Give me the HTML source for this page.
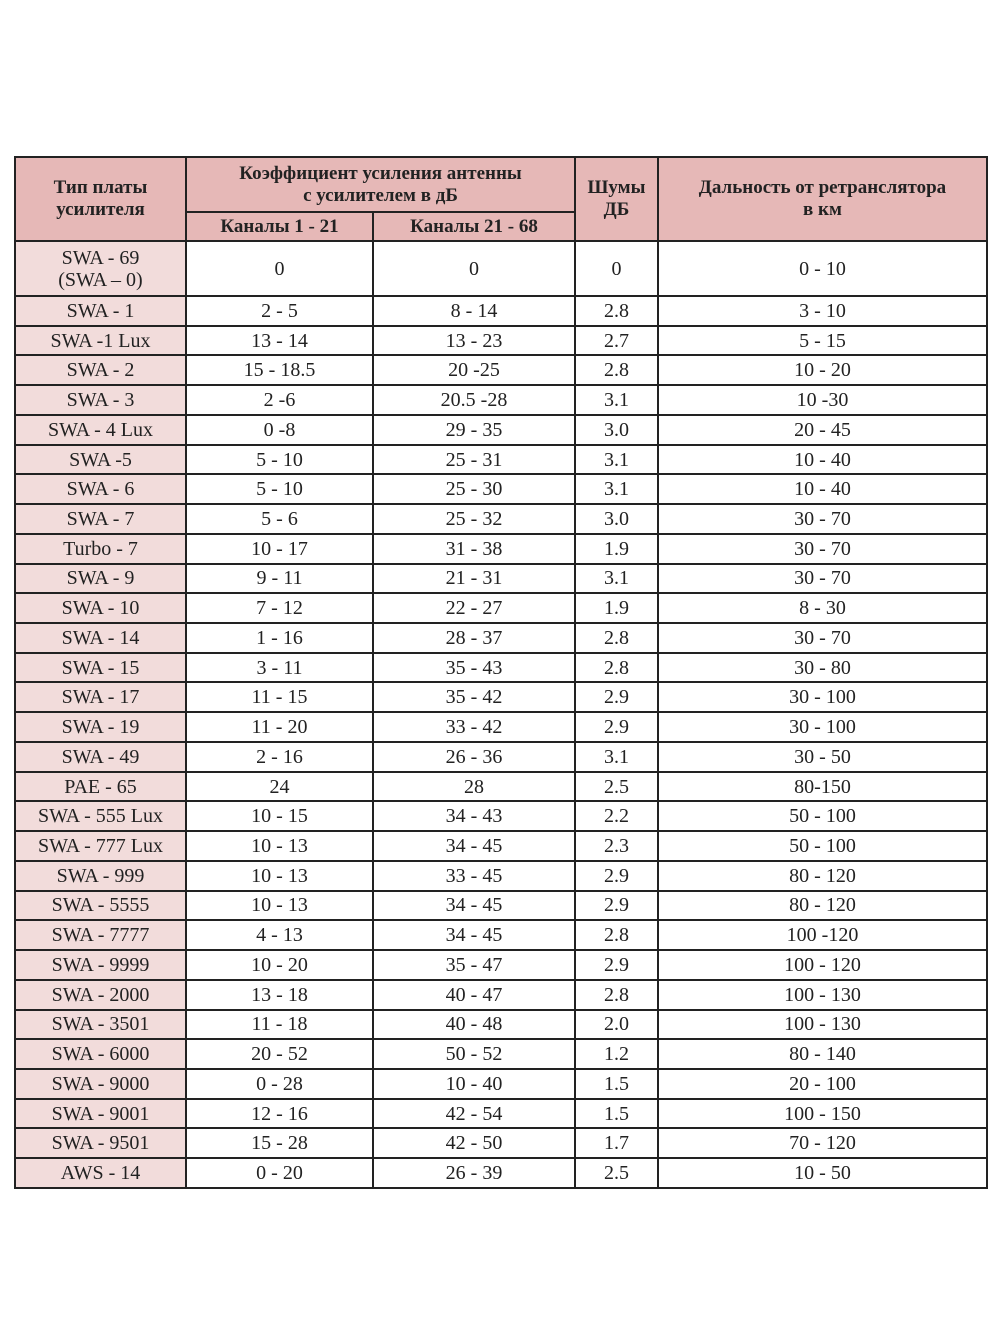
<!DOCTYPE html>
<html><head><meta charset="utf-8"><style>
body{margin:0;width:1000px;height:1340px;background:#fff;position:relative;font-family:"Liberation Serif","DejaVu Serif",serif;color:#222}
.c{position:absolute;display:flex;align-items:center;justify-content:center;text-align:center;box-sizing:border-box;font-size:20px;line-height:22px}
.h{background:#e6b8b7;font-weight:bold;font-size:19px;line-height:22px}
.f{background:#f2dcdb}
.l{position:absolute;background:#222}
</style></head><body>
<div id="t"></div>
<script>
var rows=[["SWA - 69<br>(SWA – 0)","0","0","0","0 - 10"],["SWA - 1","2 - 5","8 - 14","2.8","3 - 10"],["SWA -1 Lux","13 - 14","13 - 23","2.7","5 - 15"],["SWA - 2","15 - 18.5","20 -25","2.8","10 - 20"],["SWA - 3","2 -6","20.5 -28","3.1","10 -30"],["SWA - 4 Lux","0 -8","29 - 35","3.0","20 - 45"],["SWA -5","5 - 10","25 - 31","3.1","10 - 40"],["SWA - 6","5 - 10","25 - 30","3.1","10 - 40"],["SWA - 7","5 - 6","25 - 32","3.0","30 - 70"],["Turbo - 7","10 - 17","31 - 38","1.9","30 - 70"],["SWA - 9","9 - 11","21 - 31","3.1","30 - 70"],["SWA - 10","7 - 12","22 - 27","1.9","8 - 30"],["SWA - 14","1 - 16","28 - 37","2.8","30 - 70"],["SWA - 15","3 - 11","35 - 43","2.8","30 - 80"],["SWA - 17","11 - 15","35 - 42","2.9","30 - 100"],["SWA - 19","11 - 20","33 - 42","2.9","30 - 100"],["SWA - 49","2 - 16","26 - 36","3.1","30 - 50"],["PAE - 65","24","28","2.5","80-150"],["SWA - 555 Lux","10 - 15","34 - 43","2.2","50 - 100"],["SWA - 777 Lux","10 - 13","34 - 45","2.3","50 - 100"],["SWA - 999","10 - 13","33 - 45","2.9","80 - 120"],["SWA - 5555","10 - 13","34 - 45","2.9","80 - 120"],["SWA - 7777","4 - 13","34 - 45","2.8","100 -120"],["SWA - 9999","10 - 20","35 - 47","2.9","100 - 120"],["SWA - 2000","13 - 18","40 - 47","2.8","100 - 130"],["SWA - 3501","11 - 18","40 - 48","2.0","100 - 130"],["SWA - 6000","20 - 52","50 - 52","1.2","80 - 140"],["SWA - 9000","0 - 28","10 - 40","1.5","20 - 100"],["SWA - 9001","12 - 16","42 - 54","1.5","100 - 150"],["SWA - 9501","15 - 28","42 - 50","1.7","70 - 120"],["AWS - 14","0 - 20","26 - 39","2.5","10 - 50"]];
var X=[15,186,373,575,658,987],h="";
function cell(x,y,w,hh,cls,txt){h+='<div class="c '+cls+'" style="left:'+x+'px;top:'+y+'px;width:'+w+'px;height:'+hh+'px">'+txt+'</div>';}
function ln(x,y,w,hh){h+='<div class="l" style="left:'+x+'px;top:'+y+'px;width:'+w+'px;height:'+hh+'px"></div>';}
cell(15,157,171,84,"h","Тип платы<br>усилителя");
cell(186,157,389,55,"h","Коэффициент усиления антенны<br>с усилителем в дБ");
cell(186,212,187,29,"h","Каналы 1 - 21");
cell(373,212,202,29,"h","Каналы 21 - 68");
cell(575,157,83,84,"h","Шумы<br>ДБ");
cell(658,157,329,84,"h","Дальность от ретранслятора<br>в км");
var ys=[241,296];for(var i=1;i<=30;i++)ys.push(296+i*29.73);
for(var r=0;r<rows.length;r++){var y=ys[r],hh=ys[r+1]-y;for(var c=0;c<5;c++)cell(X[c],y,X[c+1]-X[c],hh,c==0?"f":"",rows[r][c]);}
ln(15,156,973,2);ln(186,211,389,2);ys.forEach(function(y){ln(15,y-1,973,2);});
[15,186,575,658,987].forEach(function(x){ln(x-1,156,2,1033);});ln(372,211,2,978);
document.getElementById("t").innerHTML=h;
</script>
</body></html>
